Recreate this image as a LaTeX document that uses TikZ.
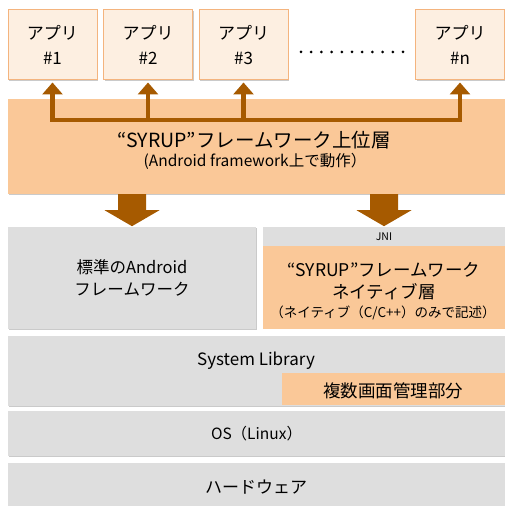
\documentclass[tikz,border=0pt]{standalone}
\usepackage{fontspec}
\setmainfont{Noto Sans CJK JP}
\usetikzlibrary{positioning,arrows.meta,shadows}
\definecolor{appfill}{HTML}{FDEFE1}
\definecolor{appline}{HTML}{F4B47E}
\definecolor{peach}{HTML}{FAC898}
\definecolor{layergray}{HTML}{DEDEDE}
\definecolor{arrbrown}{HTML}{A65A00}
\tikzset{
shade/.style={drop shadow={shadow xshift=1pt, shadow yshift=-1.5pt, opacity=.35, fill=black!60}},
appbox/.style={draw=appline, fill=appfill, line width=1pt, minimum width=89, minimum height=70,
  inner sep=0pt, align=center, font=\fontsize{17}{25}\selectfont, shade},
layer/.style={fill=layergray, inner sep=0pt, align=center, shade},
orangelayer/.style={fill=peach, inner sep=0pt, align=center},
label/.style={inner sep=0pt, align=center},
uparr/.style={-{Triangle[width=20pt,length=12pt]}, line width=4.5pt, draw=arrbrown},
downarr/.pic={\fill[arrbrown] (-14,0) -- (-14,-16) -- (-27.5,-16) -- (0,-32)
  -- (27.5,-16) -- (14,-16) -- (14,0) -- cycle;},
}

\begin{document}
\begin{tikzpicture}[x=1pt,y=1pt]
\useasboundingbox (0,0) rectangle (505,506);

% applications
\node[appbox] (app1) at (52.5,461) {アプリ\\\#1};
\node[appbox] (app2) at (148,461) {アプリ\\\#2};
\node[appbox] (app3) at (243.5,461) {アプリ\\\#3};
\node[appbox] (appn) at (460,461) {アプリ\\\#n};
\foreach \i in {0,...,10}
  \fill (301+10.2*\i,454) circle (1.5);

% upper layer
\node[orangelayer, shade, minimum width=497, minimum height=95] (upper) at (256.5,359.5) {};
\node[label, font=\fontsize{19.5}{21}\selectfont] (uppertitle) at (254,366) {“SYRUP”フレームワーク上位層};
\node[label, font=\fontsize{15.5}{17}\selectfont] (uppersub) at (255,345) {(Android framework上で動作）};

\coordinate (b1) at (app1.south |- 0,386);
\coordinate (b2) at (app2.south |- 0,386);
\coordinate (b3) at (app3.south |- 0,386);
\coordinate (bn) at (appn.south |- 0,386);
\draw[line width=4.5pt, arrbrown, line cap=rect] (b1) -- (bn);
\foreach \n in {1,2,3,n}
  \draw[uparr, shorten >=2pt] (b\n) -- (app\n.south);

% framework layer
\node[layer, minimum width=248, minimum height=102, font=\fontsize{16.5}{22}\selectfont] (android) at (132,228)
  {標準のAndroid\\フレームワーク};
\node[layer, minimum width=242, minimum height=19, font=\fontsize{10.5}{12}\selectfont] (jni) at (384,269.5) {JNI};
\node[orangelayer, minimum width=242, minimum height=83, below=0pt of jni] (native) {};
\node[label, font=\fontsize{17.5}{22}\selectfont] (nativetitle) at (384,225) {“SYRUP”フレームワーク\\ネイティブ層};
\node[label, font=\fontsize{13.5}{15}\selectfont] (nativesub) at (383,193) {（ネイティブ（C/C++）のみで記述）};

\pic at (upper.south -| android.north) {downarr};
\pic at (upper.south -| native.north) {downarr};

% system library
\node[layer, minimum width=497, minimum height=70] (syslib) at (256.5,135) {};
\node[label, font=\fontsize{17}{19}\selectfont] (syslibtext) at (256,145) {System Library};
\node[orangelayer, minimum width=223, minimum height=32] (multi) at (393.5,117) {};
\node[label, font=\fontsize{17.5}{20}\selectfont] (multitext) at (393,115) {複数画面管理部分};

% os and hardware
\node[layer, minimum width=497, minimum height=45, font=\fontsize{15.5}{18}\selectfont] (os) at (256.5,72.5) {OS（Linux）};
\node[layer, minimum width=497, minimum height=50, font=\fontsize{17}{20}\selectfont] (hw) at (256.5,18) {};
\node[label, font=\fontsize{17}{20}\selectfont] (hwtext) at (256,19) {ハードウェア};
\end{tikzpicture}
\end{document}
